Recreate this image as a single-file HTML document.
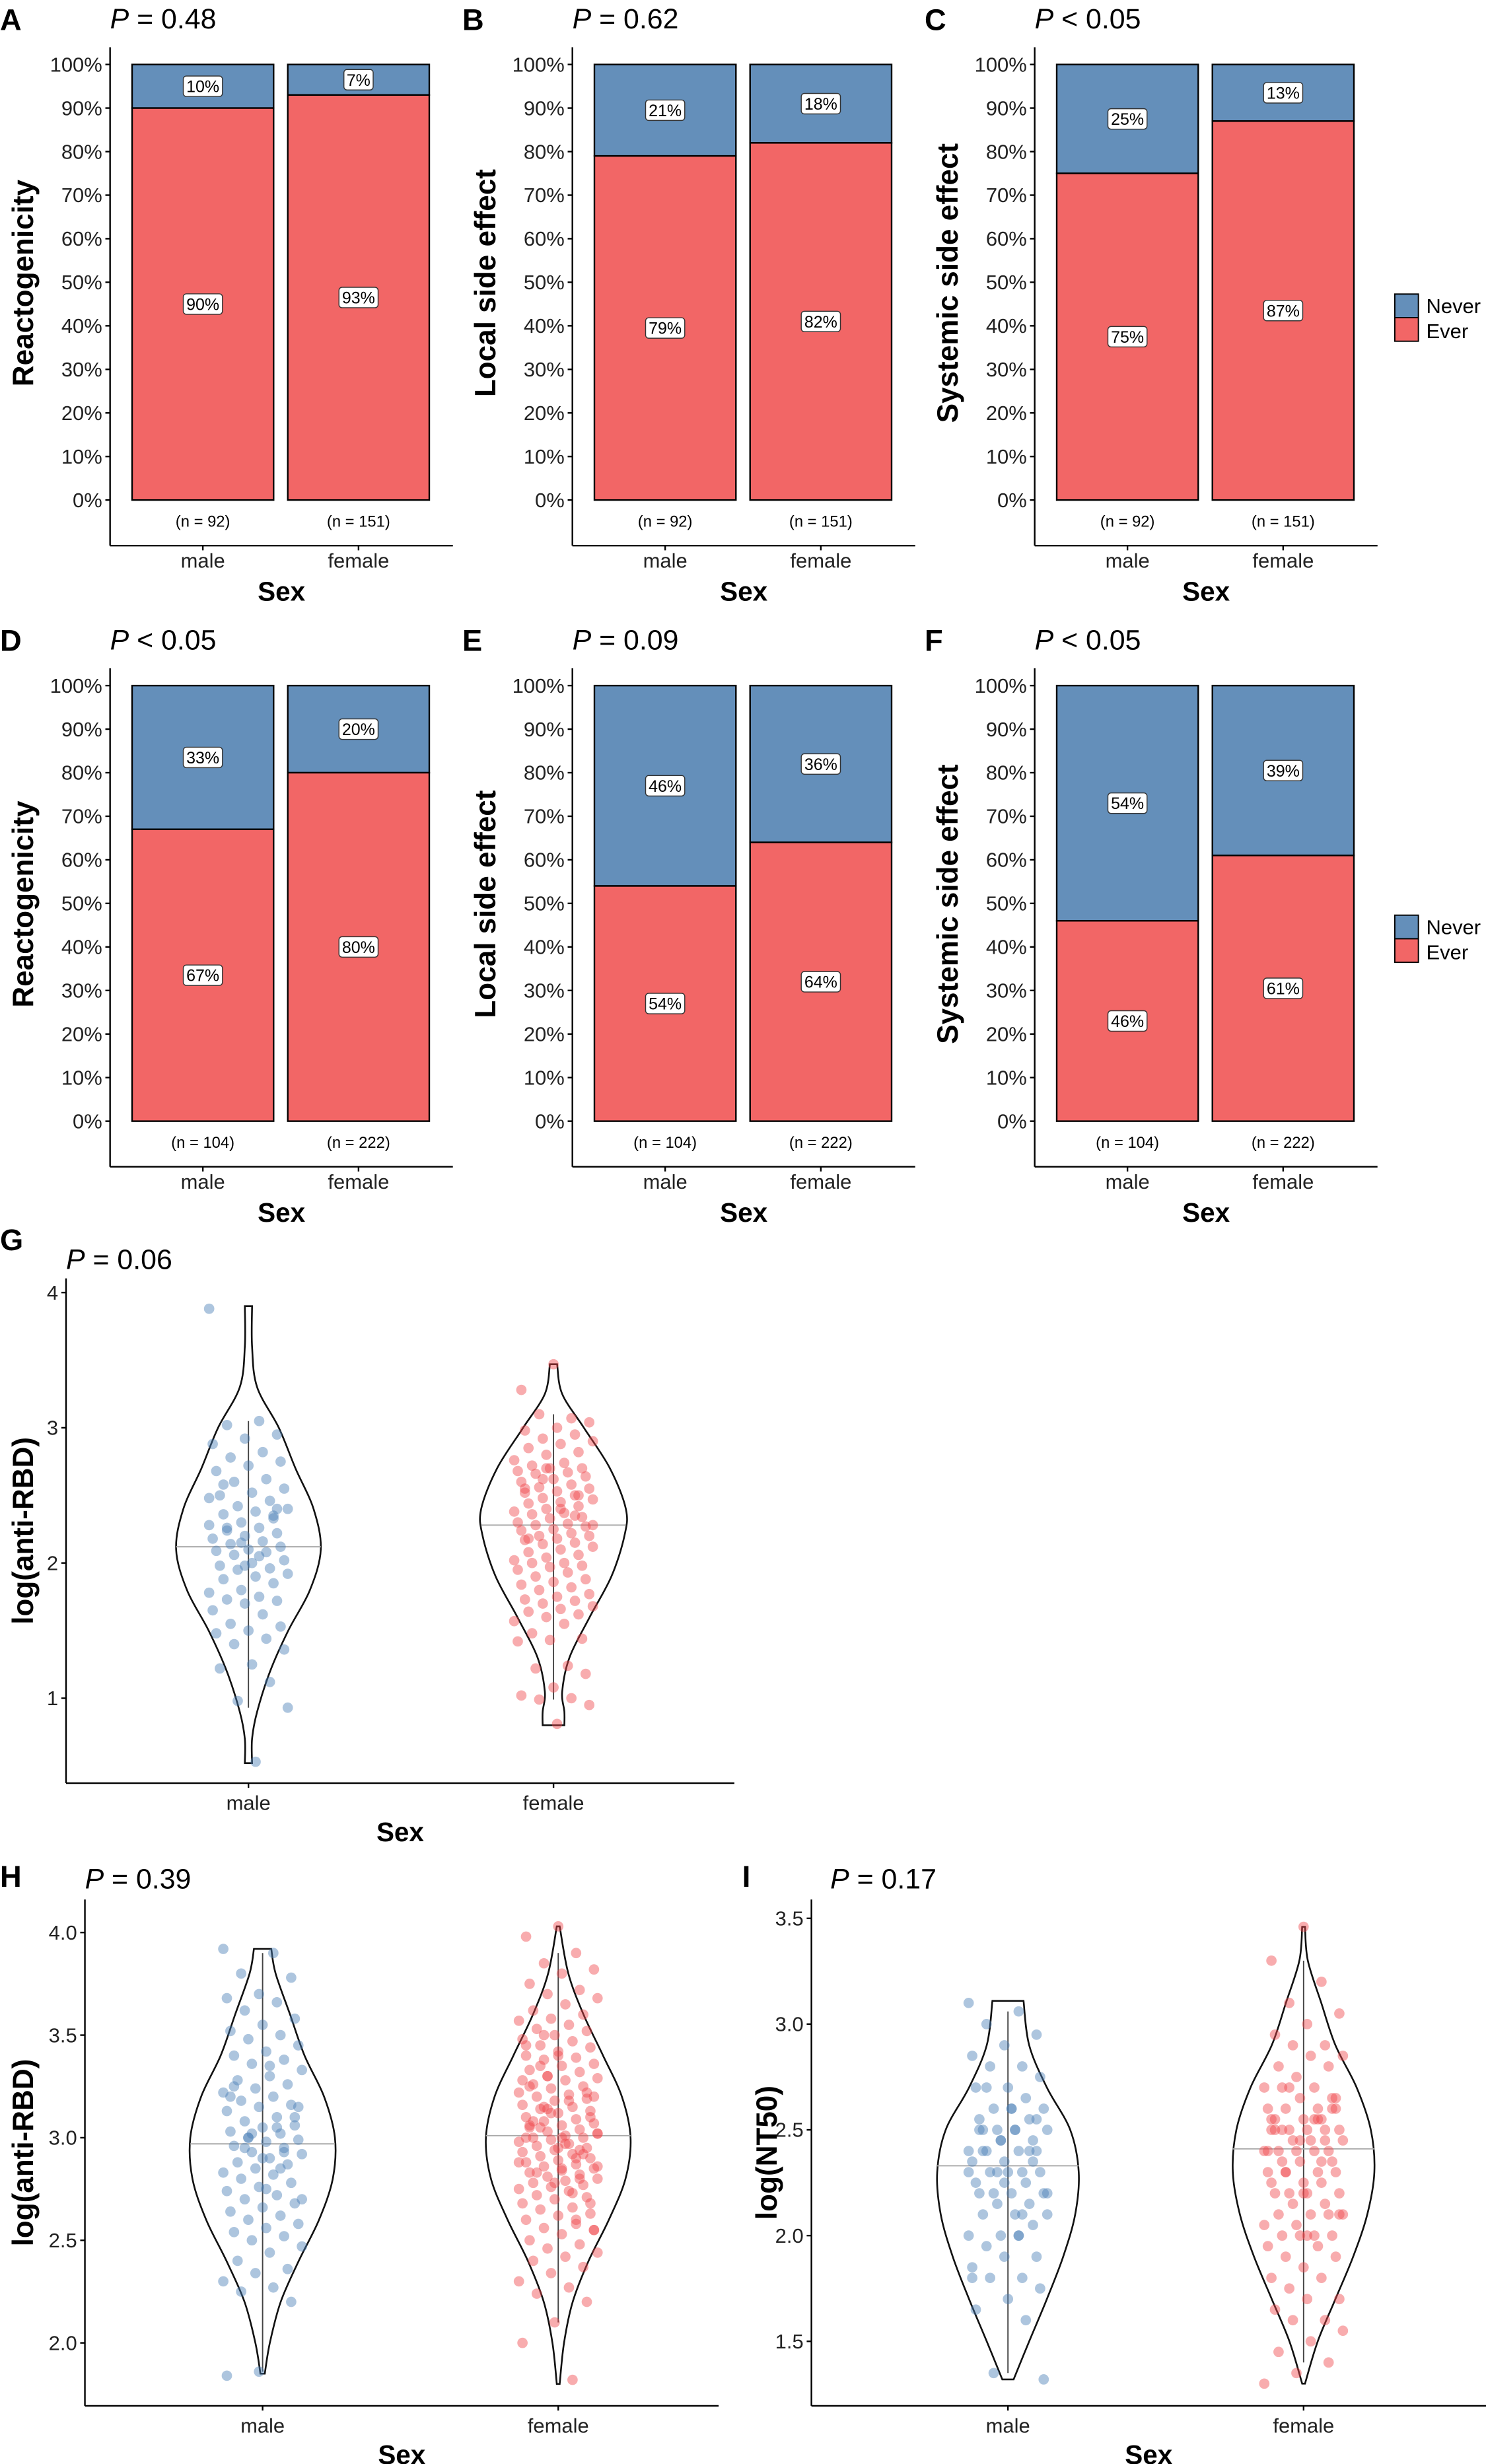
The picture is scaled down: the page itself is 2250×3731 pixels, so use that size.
<!DOCTYPE html>
<html><head><meta charset="utf-8">
<style>
html,body{margin:0;padding:0;background:#fff;}
svg{display:block;font-family:"Liberation Sans",sans-serif;}
</style></head>
<body>
<svg id="fig" xmlns="http://www.w3.org/2000/svg" width="2250" height="3731" viewBox="0 0 945 1567"></svg>
<script>
// ---------- Bar chart data ----------
const barCategories = ["male","female"];
const neverA = [10,7], neverB = [21,18], neverC = [25,13];
const neverD = [33,20], neverE = [46,36], neverF = [54,39];
const nRow1 = [92,151], nRow2 = [104,222];
const barPValues = ["= 0.48","= 0.62","< 0.05","< 0.05","= 0.09","< 0.05"];
const barLetters = ["A","B","C","D","E","F"];
const barYLabels = ["Reactogenicity","Local side effect","Systemic side effect"];
const pctTicks = [0,10,20,30,40,50,60,70,80,90,100];

// ---------- Violin data ----------
const gMale = [3.88,3.05,3.02,2.95,2.92,2.88,2.82,2.78,2.75,2.72,2.68,2.62,2.6,2.55,2.52,2.5,2.46,2.42,2.4,2.38,2.36,2.33,2.3,2.28,2.26,2.24,2.22,2.2,2.18,2.16,2.14,2.12,2.1,2.09,2.08,2.06,2.02,2.0,1.98,1.96,1.95,1.92,1.9,1.88,1.85,1.8,1.78,1.75,1.73,1.72,1.7,1.65,1.62,1.55,1.53,1.5,1.48,1.44,1.4,1.36,1.25,1.22,1.12,0.98,0.93,0.53,2.58,2.35,2.15,2.48,2.05,2.26,2.4,1.98];
const gFemale = [3.47,3.28,3.07,3.1,3.04,3.0,2.98,2.95,2.92,2.9,2.88,2.85,2.82,2.8,2.76,2.74,2.72,2.7,2.7,2.68,2.67,2.66,2.64,2.62,2.6,2.58,2.56,2.55,2.53,2.52,2.5,2.48,2.47,2.45,2.44,2.42,2.4,2.38,2.37,2.36,2.34,2.33,2.3,2.29,2.28,2.27,2.25,2.24,2.22,2.2,2.2,2.18,2.17,2.15,2.14,2.12,2.1,2.08,2.06,2.04,2.02,2.0,2.0,1.98,1.97,1.95,1.93,1.9,1.88,1.86,1.84,1.82,1.8,1.77,1.75,1.73,1.72,1.7,1.68,1.66,1.64,1.62,1.6,1.57,1.55,1.48,1.44,1.43,1.42,1.24,1.22,1.18,1.08,1.02,1.0,0.99,0.95,0.81,2.55,2.35,2.62,2.28,2.4,2.18,2.5,2.7];
const hMale = [3.92,3.9,3.8,3.78,3.7,3.68,3.66,3.62,3.58,3.55,3.52,3.5,3.48,3.45,3.42,3.4,3.38,3.36,3.33,3.3,3.28,3.26,3.24,3.22,3.2,3.18,3.16,3.15,3.13,3.1,3.08,3.06,3.05,3.03,3.02,3.0,2.99,2.98,2.96,2.95,2.93,2.92,2.9,2.88,2.87,2.85,2.83,2.82,2.8,2.78,2.76,2.74,2.72,2.7,2.68,2.66,2.64,2.62,2.6,2.58,2.56,2.54,2.52,2.5,2.47,2.44,2.4,2.36,2.34,2.3,2.27,2.25,2.2,1.86,1.84,3.05,2.95,3.1,2.9,3.2,2.85,3.0,3.15,2.75,3.25,2.93,3.02,2.7,3.35];
const hFemale = [4.03,3.98,3.9,3.85,3.82,3.8,3.75,3.72,3.7,3.68,3.65,3.62,3.6,3.58,3.57,3.55,3.53,3.52,3.5,3.48,3.47,3.45,3.44,3.42,3.4,3.39,3.38,3.36,3.35,3.33,3.32,3.3,3.29,3.28,3.26,3.25,3.24,3.22,3.21,3.2,3.19,3.18,3.16,3.15,3.14,3.13,3.12,3.1,3.09,3.08,3.07,3.06,3.05,3.04,3.03,3.02,3.01,3.0,3.0,2.99,2.98,2.97,2.96,2.95,2.94,2.93,2.92,2.91,2.9,2.89,2.88,2.87,2.86,2.85,2.84,2.83,2.82,2.81,2.8,2.79,2.78,2.77,2.76,2.75,2.74,2.72,2.71,2.7,2.68,2.66,2.65,2.63,2.62,2.6,2.58,2.56,2.55,2.53,2.5,2.48,2.46,2.44,2.42,2.4,2.37,2.34,2.3,2.27,2.24,2.2,2.1,2.0,1.82,3.05,3.1,2.95,3.0,2.9,3.15,3.2,2.85,3.25,2.8,3.3,3.02,2.97,3.08,2.92,3.12,2.88,3.18,2.83,3.22,2.78,3.28,2.73,3.35,2.68,3.4,3.45,2.6,3.5,2.55,3.0,3.06,2.94,3.14,2.86];
const iMale = [3.1,3.06,3.0,2.95,2.9,2.85,2.8,2.8,2.75,2.7,2.7,2.65,2.6,2.6,2.6,2.55,2.55,2.5,2.5,2.5,2.5,2.45,2.45,2.4,2.4,2.4,2.4,2.35,2.35,2.3,2.3,2.3,2.3,2.25,2.25,2.2,2.2,2.2,2.2,2.15,2.15,2.1,2.1,2.1,2.05,2.0,2.0,2.0,1.95,1.9,1.9,1.85,1.8,1.8,1.75,1.7,1.65,1.6,1.35,1.32,2.6,2.5,2.4,2.3,2.2,2.5,2.4,2.35,2.45,2.3,2.0,2.7,2.55,2.25,1.8,2.1];
const iFemale = [3.46,3.3,3.2,3.1,3.05,3.0,2.95,2.9,2.9,2.85,2.85,2.8,2.8,2.75,2.7,2.7,2.7,2.65,2.65,2.6,2.6,2.6,2.6,2.55,2.55,2.55,2.5,2.5,2.5,2.5,2.5,2.45,2.45,2.45,2.4,2.4,2.4,2.4,2.4,2.35,2.35,2.35,2.3,2.3,2.3,2.3,2.25,2.25,2.25,2.2,2.2,2.2,2.2,2.15,2.15,2.1,2.1,2.1,2.1,2.05,2.05,2.0,2.0,2.0,2.0,1.95,1.95,1.9,1.9,1.85,1.8,1.8,1.75,1.7,1.7,1.65,1.6,1.6,1.55,1.5,1.45,1.4,1.35,1.3,2.55,2.5,2.6,2.45,2.4,2.55,2.3,2.65,2.2,2.5,2.35,2.7,2.1,2.0,2.55,2.45];
// violin density profiles (value levels, relative density)
const gMaleLev=[0.52,0.7,0.9,1.2,1.5,1.8,2.1,2.4,2.7,3.0,3.3,3.6,3.9], gMaleDen=[0.05,0.05,0.12,0.3,0.55,0.85,1.0,0.9,0.65,0.42,0.12,0.05,0.05];
const gFemLev=[0.8,0.9,1.05,1.3,1.6,1.9,2.2,2.4,2.7,3.0,3.25,3.47], gFemDen=[0.15,0.15,0.12,0.22,0.5,0.8,0.98,1.0,0.78,0.42,0.12,0.05];
const hMaleLev=[1.85,2.0,2.2,2.4,2.6,2.8,3.0,3.2,3.4,3.6,3.8,3.92], hMaleDen=[0.03,0.1,0.25,0.5,0.78,0.97,1.0,0.85,0.58,0.38,0.18,0.12];
const hFemLev=[1.8,2.0,2.2,2.4,2.6,2.8,3.0,3.2,3.4,3.6,3.8,4.03], hFemDen=[0.02,0.08,0.2,0.42,0.7,0.93,1.0,0.88,0.62,0.35,0.14,0.02];
const iMaleLev=[1.32,1.5,1.7,1.9,2.1,2.3,2.5,2.7,2.9,3.11], iMaleDen=[0.08,0.3,0.55,0.78,0.95,1.0,0.88,0.55,0.3,0.22];
const iFemLev=[1.3,1.5,1.7,1.9,2.1,2.3,2.5,2.7,2.9,3.1,3.3,3.46], iFemDen=[0.02,0.2,0.45,0.7,0.9,1.0,0.95,0.75,0.45,0.25,0.06,0.02];
const medians = {gM:2.12,gF:2.28,hM:2.97,hF:3.01,iM:2.33,iF:2.41};

const NS="http://www.w3.org/2000/svg";
const svg=document.getElementById('fig');
function mk(tag,attrs,parent){const e=document.createElementNS(NS,tag);for(const k in attrs)e.setAttribute(k,attrs[k]);(parent||svg).appendChild(e);return e;}
function txt(s,x,y,attrs,parent){const t=mk('text',Object.assign({x:x,y:y},attrs||{}),parent);t.textContent=s;return t;}

const BLUE="#648fba", RED="#f26666";

function barPanel(ox,oy,idx,never,ns,ylab,legend){
  const g=mk('g',{});
  
  
  const ax=ox+70, y0=oy+318, y100=oy+41, xb=oy+347;
  const ys=v=>y0+(y100-y0)*v/100;
  const lt=txt(barLetters[idx],ox+0,oy+19,{'font-size':19,'font-weight':'bold'},g);
  
  const pt=txt('',ox+70,oy+18,{'font-size':18},g);
  pt.innerHTML='<tspan font-style="italic">P</tspan> '+barPValues[idx];
  
  mk('line',{x1:ax,y1:oy+30,x2:ax,y2:xb,stroke:'#000','stroke-width':1},g);
  mk('line',{x1:ax,y1:xb,x2:ox+288,y2:xb,stroke:'#000','stroke-width':1},g);
  pctTicks.forEach(t=>{
    mk('line',{x1:ax-3,y1:ys(t),x2:ax,y2:ys(t),stroke:'#000'},g);
    const tl=txt(t+'%',ax-5,ys(t)+4.5,{'font-size':13,'text-anchor':'end',fill:'#222'},g);
    
  });
  const yl=txt(ylab,0,0,{'font-size':18.5,'font-weight':'bold','text-anchor':'middle',transform:`translate(${ox+21},${oy+180}) rotate(-90)`},g);
  
  const xt=txt('Sex',ox+179,oy+382,{'font-size':17,'font-weight':'bold','text-anchor':'middle'},g);
  
  barCategories.forEach((c,i)=>{
    const bx=ox+84+i*99, bw=90, cx=bx+bw/2;
    const nv=never[i], ev=100-nv;
    const r1=mk('rect',{x:bx,y:ys(100),width:bw,height:ys(ev)-ys(100),fill:BLUE,stroke:'#000','stroke-width':1},g);
    
    const r2=mk('rect',{x:bx,y:ys(ev),width:bw,height:ys(0)-ys(ev),fill:RED,stroke:'#000','stroke-width':1},g);
    
    [[nv,(100+ev)/2],[ev,ev/2]].forEach(([v,m])=>{
      const s=v+'%', w=s.length*6.3+6;
      mk('rect',{x:cx-w/2,y:ys(m)-6.5,width:w,height:13,rx:2,fill:'#fff',stroke:'#333','stroke-width':0.6},g);
      const lb=txt(s,cx,ys(m)+3.8,{'font-size':10.5,'text-anchor':'middle'},g);
      
    });
    const nt=txt('(n = '+ns[i]+')',cx,oy+335,{'font-size':10,'text-anchor':'middle'},g);
    
    mk('line',{x1:cx,y1:xb,x2:cx,y2:xb+3,stroke:'#000'},g);
    const xl=txt(c,cx,oy+361,{'font-size':13,'text-anchor':'middle',fill:'#222'},g);
    
  });
  if(legend){
    const lg=mk('g',{},g);
    
    mk('rect',{x:887,y:oy+187,width:15,height:15,fill:BLUE,stroke:'#000','stroke-width':0.8},lg);
    mk('rect',{x:887,y:oy+202,width:15,height:15,fill:RED,stroke:'#000','stroke-width':0.8},lg);
    txt('Never',907,oy+199,{'font-size':13},lg);
    txt('Ever',907,oy+215,{'font-size':13},lg);
  }
}
const row1=[neverA,neverB,neverC], row2=[neverD,neverE,neverF];
[0,1,2].forEach(j=>barPanel(j*294,0,j,row1[j],nRow1,barYLabels[j],j==2));
[0,1,2].forEach(j=>barPanel(j*294,395,j+3,row2[j],nRow2,barYLabels[j],j==2));

function smoothSeg(pts){
  let d='';
  for(let k=0;k<pts.length-1;k++){
    const p0=pts[Math.max(0,k-1)],p1=pts[k],p2=pts[k+1],p3=pts[Math.min(pts.length-1,k+2)];
    const c1=[p1[0]+(p2[0]-p0[0])/6,p1[1]+(p2[1]-p0[1])/6];
    const c2=[p2[0]-(p3[0]-p1[0])/6,p2[1]-(p3[1]-p1[1])/6];
    d+=` C${c1[0]},${c1[1]} ${c2[0]},${c2[1]} ${p2[0]},${p2[1]}`;
  }
  return d;
}

function violinPanel(cfg){
  const g=mk('g',{});
  
  
  const ys=v=>cfg.yA+(v-cfg.vA)*(cfg.yB-cfg.yA)/(cfg.vB-cfg.vA);
  const lt=txt(cfg.letter,cfg.lx,cfg.ly,{'font-size':19,'font-weight':'bold'},g);
  
  const pt=txt('',cfg.px,cfg.py,{'font-size':18},g);
  pt.innerHTML='<tspan font-style="italic">P</tspan> = '+cfg.p;
  
  mk('line',{x1:cfg.ax,y1:cfg.top,x2:cfg.ax,y2:cfg.xb,stroke:'#000'},g);
  mk('line',{x1:cfg.ax,y1:cfg.xb,x2:cfg.xe,y2:cfg.xb,stroke:'#000'},g);
  cfg.ticks.forEach(t=>{
    mk('line',{x1:cfg.ax-3,y1:ys(t),x2:cfg.ax,y2:ys(t),stroke:'#000'},g);
    const tl=txt(cfg.fmt(t),cfg.ax-5,ys(t)+4.5,{'font-size':13,'text-anchor':'end',fill:'#222'},g);
    
  });
  const yl=txt(cfg.ylab,0,0,{'font-size':18.5,'font-weight':'bold','text-anchor':'middle',transform:`translate(${cfg.ylx},${(cfg.top+cfg.xb)/2}) rotate(-90)`},g);
  
  const xt=txt('Sex',(cfg.ax+cfg.xe)/2,cfg.xb+37,{'font-size':17,'font-weight':'bold','text-anchor':'middle'},g);
  
  cfg.groups.forEach((gr,gi)=>{
    const cx=gr.cx;
    let right=[],left=[];
    gr.lev.forEach((v,k)=>{const w=gr.den[k]*cfg.hw;right.push([cx+w,ys(v)]);left.push([cx-w,ys(v)]);});
    left.reverse();
    let d='M'+right[0][0]+','+right[0][1]+smoothSeg(right)+` L${left[0][0]},${left[0][1]}`+smoothSeg(left)+'Z';
    const vp=mk('path',{d:d,fill:'none',stroke:'#111','stroke-width':1.1},g);
    
    const sorted=gr.vals.slice().sort((a,b)=>a-b);
    const lo=sorted[Math.floor(sorted.length*0.02)], hi=sorted[Math.floor(sorted.length*0.98)];
    mk('line',{x1:cx,y1:ys(lo),x2:cx,y2:ys(hi),stroke:'#444','stroke-width':0.8},g);
    const mw=cfg.hw*1.0;
    const ml=mk('line',{x1:cx-mw,y1:ys(gr.med),x2:cx+mw,y2:ys(gr.med),stroke:'#aaa','stroke-width':0.8},g);
    
    gr.vals.forEach((v,i)=>{
      const jit=(((i*37+gi*11)%23)-11)/11*cfg.jit;
      const c=mk('circle',{cx:cx+jit,cy:ys(v),r:3.3,fill:gr.color,'fill-opacity':0.45},g);
      
      
    });
    mk('line',{x1:cx,y1:cfg.xb,x2:cx,y2:cfg.xb+3,stroke:'#000'},g);
    const xl=txt(gr.name,cx,cfg.xb+17,{'font-size':13,'text-anchor':'middle',fill:'#222'},g);
    
  });
}
const f1=t=>String(t), f2=t=>t.toFixed(1);
violinPanel({letter:'G',lx:0,ly:795,px:42,py:807,p:'0.06',ax:42,top:813,xb:1134,xe:467,vA:1,yA:1080,vB:4,yB:822,ticks:[1,2,3,4],fmt:f1,ylab:'log(anti-RBD)',ylx:21,hw:46,jit:25,
 groups:[{name:'male',cx:158,vals:gMale,lev:gMaleLev,den:gMaleDen,med:medians.gM,color:'#4a7fb5'},{name:'female',cx:352,vals:gFemale,lev:gFemLev,den:gFemDen,med:medians.gF,color:'#f0474c'}]});
violinPanel({letter:'H',lx:0,ly:1200,px:54,py:1201,p:'0.39',ax:54,top:1208,xb:1530,xe:457,vA:2,yA:1490,vB:4,yB:1229,ticks:[2,2.5,3,3.5,4],fmt:f2,ylab:'log(anti-RBD)',ylx:21,hw:46,jit:25,
 groups:[{name:'male',cx:167,vals:hMale,lev:hMaleLev,den:hMaleDen,med:medians.hM,color:'#4a7fb5'},{name:'female',cx:355,vals:hFemale,lev:hFemLev,den:hFemDen,med:medians.hF,color:'#f0474c'}]});
violinPanel({letter:'I',lx:472,ly:1200,px:528,py:1201,p:'0.17',ax:516,top:1208,xb:1530,xe:945,vA:1.5,yA:1489,vB:3.5,yB:1220,ticks:[1.5,2,2.5,3,3.5],fmt:f2,ylab:'log(NT50)',ylx:494,hw:45,jit:25,
 groups:[{name:'male',cx:641,vals:iMale,lev:iMaleLev,den:iMaleDen,med:medians.iM,color:'#4a7fb5'},{name:'female',cx:829,vals:iFemale,lev:iFemLev,den:iFemDen,med:medians.iF,color:'#f0474c'}]});
</script>
</body></html>
